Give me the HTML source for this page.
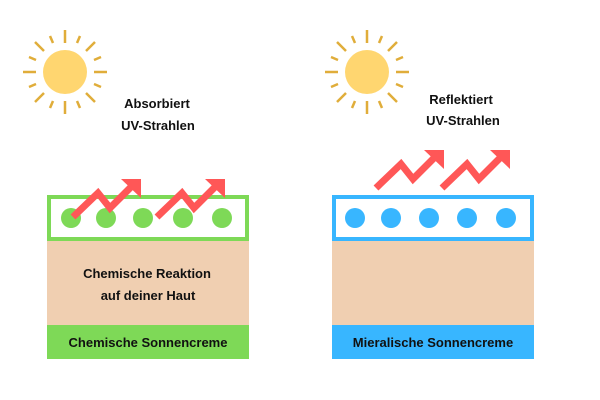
<!DOCTYPE html>
<html><head><meta charset="utf-8"><style>
html,body{margin:0;padding:0;background:#fff;}
svg{display:block}
text{font-family:"Liberation Sans",sans-serif;font-weight:bold;font-size:13px;fill:#111;text-anchor:middle}
</style></head><body>
<svg width="600" height="400" viewBox="0 0 600 400" xmlns="http://www.w3.org/2000/svg">
<defs>
<g id="sun">
<circle r="22" fill="#ffd670"/>
<g stroke="#e0ad3a" stroke-width="2.5" stroke-linecap="butt">
<line x1="0" y1="-29" x2="0" y2="-42"/><line x1="0" y1="29" x2="0" y2="42"/>
<line x1="-29" y1="0" x2="-42" y2="0"/><line x1="29" y1="0" x2="42" y2="0"/>
<line x1="21" y1="-21" x2="30" y2="-30"/><line x1="-21" y1="-21" x2="-30" y2="-30"/>
<line x1="21" y1="21" x2="30" y2="30"/><line x1="-21" y1="21" x2="-30" y2="30"/>
<line x1="12" y1="-29" x2="15" y2="-36"/><line x1="-12" y1="-29" x2="-15" y2="-36"/>
<line x1="12" y1="29" x2="15" y2="36"/><line x1="-12" y1="29" x2="-15" y2="36"/>
<line x1="29" y1="12" x2="36" y2="15"/><line x1="-29" y1="12" x2="-36" y2="15"/>
<line x1="29" y1="-12" x2="36" y2="-15"/><line x1="-29" y1="-12" x2="-36" y2="-15"/>
</g>
</g>
<g id="arr">
<polyline points="0,38 25,14 37,29 58,8" fill="none" stroke="#ff5757" stroke-width="7"/>
<polygon points="48,0 68,0 68,19" fill="#ff5757"/>
</g>
</defs>
<use href="#sun" x="65" y="72"/>
<use href="#sun" x="367" y="72"/>
<text x="157" y="108">Absorbiert</text>
<text x="158" y="130">UV-Strahlen</text>
<text x="461" y="104">Reflektiert</text>
<text x="463" y="125">UV-Strahlen</text>

<rect x="47" y="240" width="202" height="86" fill="#f0cfb1"/>
<rect x="47" y="325" width="202" height="34" fill="#7ed957"/>
<rect x="49" y="197" width="198" height="42" fill="#fff" stroke="#7ed957" stroke-width="4"/>
<g fill="#7ed957"><circle cx="71" cy="218" r="10"/><circle cx="106" cy="218" r="10"/><circle cx="143" cy="218" r="10"/><circle cx="183" cy="218" r="10"/><circle cx="222" cy="218" r="10"/></g>
<use href="#arr" x="73" y="179"/>
<use href="#arr" x="157" y="179"/>
<text x="147" y="278">Chemische Reaktion</text>
<text x="148" y="300">auf deiner Haut</text>
<text x="148" y="347">Chemische Sonnencreme</text>

<rect x="332" y="240" width="202" height="86" fill="#f0cfb1"/>
<rect x="332" y="325" width="202" height="34" fill="#38b6ff"/>
<rect x="334" y="197" width="198" height="42" fill="#fff" stroke="#38b6ff" stroke-width="4"/>
<g fill="#38b6ff"><circle cx="355" cy="218" r="10"/><circle cx="391" cy="218" r="10"/><circle cx="429" cy="218" r="10"/><circle cx="467" cy="218" r="10"/><circle cx="506" cy="218" r="10"/></g>
<use href="#arr" x="376" y="150"/>
<use href="#arr" x="442" y="150"/>
<text x="433" y="347">Mieralische Sonnencreme</text>
</svg>
</body></html>
